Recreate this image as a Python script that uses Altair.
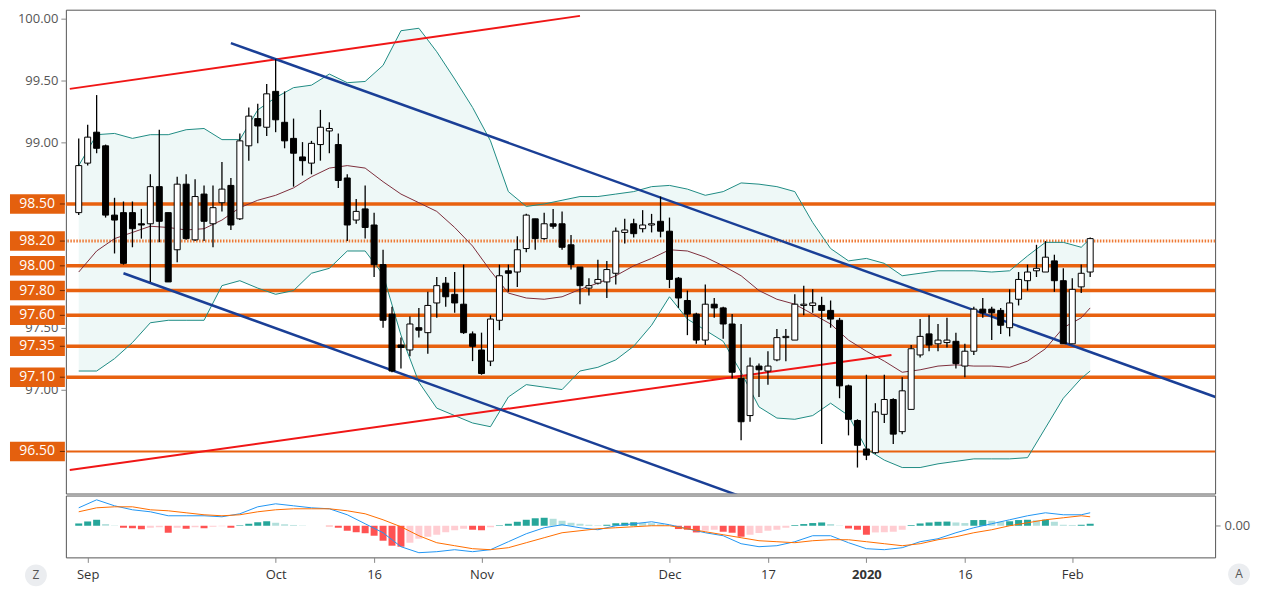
import altair as alt
import pandas as pd

# ---------------- data ----------------
bar_idx = list(range(114))
open_ = [98.43, 98.83, 99.08, 98.97, 98.41, 98.43, 98.43, 98.34, 98.34, 98.64,
         98.43, 98.13, 98.66, 98.21, 98.58, 98.34, 98.51, 98.65, 98.38, 98.97,
         99.19, 99.12, 99.41, 99.16, 99.03, 98.88, 98.83, 98.98, 99.09, 98.98,
         98.71, 98.37, 98.46, 98.33, 98.01, 97.61, 97.36, 97.32, 97.50, 97.46,
         97.70, 97.86, 97.77, 97.69, 97.45, 97.32, 97.23, 97.56, 97.96, 97.95,
         98.14, 98.38, 98.22, 98.34, 98.34, 98.17, 97.99, 97.82, 97.86, 97.87,
         97.94, 98.27, 98.34, 98.30, 98.33, 98.36, 98.28, 97.90, 97.72, 97.61,
         97.40, 97.69, 97.66, 97.53, 97.09, 96.79, 97.19, 97.15, 97.24, 97.42,
         97.40, 97.68, 97.68, 97.68, 97.64, 97.56, 97.03, 96.75, 96.52, 96.49,
         96.80, 96.92, 96.66, 96.84, 97.28, 97.45, 97.37, 97.38, 97.39, 97.19,
         97.31, 97.65, 97.65, 97.64, 97.50, 97.73, 97.88, 97.96, 97.95, 98.04,
         97.88, 97.37, 97.83, 97.95]
high = [99.03, 99.14, 99.38, 98.98, 98.55, 98.52, 98.52, 98.46, 98.74, 99.10,
        98.43, 98.72, 98.74, 98.70, 98.65, 98.65, 98.84, 98.71, 99.07, 99.28,
        99.31, 99.47, 99.67, 99.41, 99.19, 99.00, 99.01, 99.26, 99.16, 99.07,
        98.74, 98.54, 98.65, 98.43, 98.13, 97.67, 97.42, 97.59, 97.66, 97.79,
        97.91, 97.91, 97.95, 98.01, 97.47, 97.46, 97.60, 98.01, 98.01, 98.24,
        98.42, 98.38, 98.43, 98.46, 98.44, 98.25, 97.99, 97.90, 98.05, 98.04,
        98.31, 98.38, 98.38, 98.45, 98.42, 98.56, 98.39, 97.91, 97.80, 97.62,
        97.85, 97.74, 97.67, 97.61, 97.53, 97.26, 97.21, 97.31, 97.49, 97.49,
        97.77, 97.84, 97.81, 97.75, 97.72, 97.58, 97.04, 96.76, 97.12, 96.89,
        97.12, 96.93, 97.10, 97.36, 97.57, 97.60, 97.53, 97.58, 97.46, 97.37,
        97.67, 97.74, 97.67, 97.66, 97.81, 97.95, 98.01, 98.17, 98.20, 98.09,
        97.98, 97.90, 98.01, 98.23]
low = [98.41, 98.81, 98.91, 98.39, 98.10, 98.01, 98.15, 98.22, 97.87, 98.19,
       97.87, 98.03, 98.21, 98.20, 98.20, 98.15, 98.44, 98.29, 98.37, 98.85,
       98.99, 99.05, 99.08, 98.95, 98.64, 98.73, 98.74, 98.85, 98.91, 98.63,
       98.20, 98.34, 98.22, 97.91, 97.50, 97.14, 97.17, 97.27, 97.42, 97.29,
       97.58, 97.67, 97.62, 97.45, 97.23, 97.12, 97.19, 97.48, 97.79, 97.83,
       98.11, 98.13, 98.21, 98.30, 98.13, 97.97, 97.69, 97.76, 97.85, 97.74,
       97.85, 98.18, 98.23, 98.27, 98.27, 98.23, 97.82, 97.66, 97.44, 97.37,
       97.36, 97.58, 97.41, 97.09, 96.59, 96.74, 96.94, 97.04, 97.23, 97.23,
       97.40, 97.60, 97.62, 96.56, 97.50, 96.93, 96.63, 96.37, 96.43, 96.48,
       96.73, 96.56, 96.64, 96.84, 97.26, 97.31, 97.31, 97.34, 97.17, 97.10,
       97.28, 97.58, 97.40, 97.45, 97.43, 97.68, 97.80, 97.91, 97.95, 97.79,
       97.37, 97.37, 97.78, 97.91]
close = [98.81, 99.04, 98.95, 98.41, 98.37, 98.02, 98.30, 98.33, 98.64, 98.36,
         97.87, 98.66, 98.22, 98.56, 98.36, 98.47, 98.62, 98.33, 99.01, 99.21,
         99.13, 99.39, 99.18, 99.01, 98.91, 98.85, 98.99, 99.12, 99.11, 98.69,
         98.33, 98.44, 98.31, 98.01, 97.56, 97.15, 97.34, 97.53, 97.48, 97.68,
         97.84, 97.75, 97.70, 97.46, 97.35, 97.13, 97.57, 97.92, 97.94, 98.13,
         98.41, 98.22, 98.34, 98.32, 98.15, 98.01, 97.84, 97.84, 97.89, 97.97,
         98.28, 98.29, 98.26, 98.33, 98.34, 98.28, 97.89, 97.74, 97.61, 97.40,
         97.69, 97.66, 97.53, 97.14, 96.74, 97.19, 97.16, 97.19, 97.42, 97.43,
         97.69, 97.69, 97.70, 97.64, 97.57, 97.03, 96.76, 96.55, 96.47, 96.82,
         96.92, 96.64, 96.99, 97.33, 97.43, 97.36, 97.40, 97.40, 97.21, 97.31,
         97.65, 97.62, 97.62, 97.52, 97.70, 97.89, 97.95, 97.98, 98.07, 97.88,
         97.37, 97.81, 97.94, 98.22]

# Bollinger bands / MACD lines sampled every second bar
line_idx = list(range(0, 113, 2)) + [113]
bb_upper = [98.81, 99.06, 99.07, 99.03, 99.06, 99.06, 99.10, 99.11, 99.02, 99.02,
            99.26, 99.36, 99.44, 99.46, 99.55, 99.48, 99.49, 99.62, 99.90, 99.92,
            99.73, 99.51, 99.28, 99.01, 98.60, 98.48, 98.50, 98.53, 98.56, 98.56,
            98.58, 98.60, 98.64, 98.65, 98.62, 98.57, 98.60, 98.67, 98.66, 98.64,
            98.60, 98.35, 98.14, 98.04, 98.06, 98.02, 97.92, 97.94, 97.96, 97.96,
            97.96, 97.95, 97.96, 98.08, 98.19, 98.19, 98.15, 98.22]
bb_mid = [97.95, 98.12, 98.22, 98.27, 98.32, 98.31, 98.29, 98.30, 98.37, 98.47,
          98.53, 98.57, 98.63, 98.72, 98.79, 98.81, 98.79, 98.68, 98.58, 98.51,
          98.44, 98.31, 98.16, 97.96, 97.78, 97.74, 97.73, 97.75, 97.81, 97.86,
          97.92, 98.00, 98.06, 98.13, 98.12, 98.07, 98.00, 97.92, 97.80, 97.73,
          97.69, 97.61, 97.53, 97.40, 97.31, 97.23, 97.14, 97.16, 97.19, 97.20,
          97.19, 97.19, 97.18, 97.23, 97.33, 97.50, 97.58, 97.66]
bb_lower = [97.15, 97.15, 97.25, 97.38, 97.54, 97.56, 97.56, 97.56, 97.84, 97.88,
            97.82, 97.77, 97.80, 97.94, 97.98, 98.12, 98.12, 97.93, 97.44, 97.06,
            96.85, 96.79, 96.73, 96.70, 96.94, 97.04, 97.02, 97.00, 97.15, 97.18,
            97.24, 97.35, 97.52, 97.75, 97.57, 97.48, 97.39, 97.14, 96.86, 96.77,
            96.76, 96.79, 96.89, 96.79, 96.52, 96.43, 96.37, 96.37, 96.40, 96.42,
            96.44, 96.44, 96.44, 96.45, 96.69, 96.93, 97.09, 97.15]
macd = [0.18, 0.26, 0.20, 0.16, 0.14, 0.10, 0.10, 0.10, 0.09, 0.12,
        0.19, 0.22, 0.20, 0.18, 0.17, 0.11, 0.02, -0.07, -0.21, -0.27,
        -0.26, -0.24, -0.26, -0.24, -0.16, -0.08, -0.02, 0.01, -0.02, -0.04,
        0.00, 0.02, 0.04, 0.01, -0.03, -0.07, -0.10, -0.18, -0.21, -0.20,
        -0.16, -0.10, -0.10, -0.17, -0.23, -0.24, -0.22, -0.16, -0.13, -0.07,
        -0.02, 0.02, 0.06, 0.10, 0.13, 0.11, 0.11, 0.13]
signal = [0.14, 0.18, 0.19, 0.19, 0.16, 0.15, 0.13, 0.11, 0.10, 0.11,
          0.14, 0.16, 0.17, 0.17, 0.17, 0.15, 0.12, 0.06, -0.01, -0.10,
          -0.17, -0.20, -0.23, -0.24, -0.22, -0.17, -0.12, -0.07, -0.05, -0.03,
          -0.02, -0.01, 0.00, 0.00, -0.03, -0.06, -0.09, -0.12, -0.15, -0.16,
          -0.17, -0.15, -0.14, -0.14, -0.16, -0.18, -0.20, -0.18, -0.14, -0.11,
          -0.07, -0.04, 0.00, 0.03, 0.06, 0.08, 0.10, 0.09]
hist = [0.023, 0.043, 0.06, 0.017, 0.003, -0.02, -0.025, -0.035, -0.02, -0.015,
        -0.07, -0.02, -0.03, -0.015, -0.025, -0.01, -0.005, -0.02, 0.005, 0.02,
        0.035, 0.045, 0.03, 0.015, 0.008, 0.003, 0.0, 0.0, -0.005, -0.02,
        -0.05, -0.065, -0.075, -0.10, -0.15, -0.20, -0.21, -0.17, -0.13, -0.11,
        -0.09, -0.065, -0.045, -0.03, -0.04, -0.045, -0.015, 0.005, 0.02, 0.04,
        0.06, 0.075, 0.08, 0.07, 0.05, 0.03, 0.02, 0.01, 0.005, 0.01,
        0.025, 0.03, 0.035, 0.027, 0.025, 0.015, 0.005, -0.033, -0.04, -0.067,
        -0.05, -0.04, -0.06, -0.07, -0.11, -0.09, -0.073, -0.05, -0.04, -0.02,
        0.007, 0.017, 0.027, 0.033, 0.017, 0.003, -0.027, -0.04, -0.09, -0.067,
        -0.065, -0.06, -0.04, 0.007, 0.023, 0.033, 0.04, 0.042, 0.033, 0.027,
        0.057, 0.058, 0.05, 0.04, 0.045, 0.057, 0.06, 0.055, 0.06, 0.04,
        0.01, 0.008, 0.01, 0.02]

# horizontal support/resistance levels
levels_solid = [98.50, 98.00, 97.80, 97.60, 97.35, 97.10]
levels_dotted = [98.20]
levels_thin = [96.50]
levels_all = [98.50, 98.20, 98.00, 97.80, 97.60, 97.35, 97.10, 96.50]

# trend lines (bar index, price) end points
red_names = ["r1", "r1", "r2", "r2"]
red_i = [-1.0, 56.0, -1.0, 90.8]
red_p = [99.43, 100.02, 96.35, 97.28]
blue_names = ["b1", "b1", "b2", "b2"]
blue_i = [17.0, 127.0, 5.0, 75.0]
blue_p = [99.80, 96.94, 97.94, 96.11]

# price-scale labels not hidden behind the level boxes
price_ticks = [97.0, 97.5, 99.0, 99.5, 100.0]
time_tick_idx = [1, 22, 33, 45, 66, 77, 88, 99, 111]
time_tick_lbl = ["Sep", "Oct", "16", "Nov", "Dec", "17", "2020", "16", "Feb"]

# ---------------- frames ----------------
candles = pd.DataFrame({"i": bar_idx, "open": open_, "high": high, "low": low, "close": close})
bands = pd.DataFrame({"i": line_idx, "up": bb_upper, "mid": bb_mid, "lo": bb_lower,
                      "macd": macd, "sig": signal})
hcols = []
for k, h in enumerate(hist):
    prev = hist[k - 1] if k > 0 else 0.0
    if h >= 0:
        hcols.append("#26A69A" if h > prev else "#B2DFDB")
    else:
        hcols.append("#FFCDD2" if h > prev else "#FF5252")
histdf = pd.DataFrame({"i": bar_idx, "h": hist, "col": hcols})
reds = pd.DataFrame({"n": red_names, "i": red_i, "p": red_p})
blues = pd.DataFrame({"n": blue_names, "i": blue_i, "p": blue_p})

W = 1152
H_PRICE = 485
H_MACD = 62
FONT = "Open Sans"

xscale = alt.Scale(domain=[-0.88, 126.4], nice=False, zero=False)
pscale = alt.Scale(domain=[96.16, 100.07], nice=False, zero=False)
mscale = alt.Scale(domain=[-0.317, 0.303], nice=False, zero=False)

price_axis = alt.Axis(orient="left", values=price_ticks, format=".2f", labelFontSize=13,
                      labelColor="#555555", labelFont=FONT, tickColor="#888888", tickSize=5,
                      domain=False, grid=False, labelPadding=3, minExtent=57, maxExtent=57,
                      title=None)
X = alt.X("i:Q", scale=xscale, axis=None)


def Y(f):
    return alt.Y(f, scale=pscale, axis=price_axis)


fill = alt.Chart(bands).mark_area(color="#b2dfdb", opacity=0.22).encode(
    x=X, y=Y("up:Q"), y2="lo:Q")

lv_solid = alt.Chart(pd.DataFrame({"lv": levels_solid})).mark_rule(
    color="#E8610F", strokeWidth=3.5).encode(y=Y("lv:Q"))
lv_dot = alt.Chart(pd.DataFrame({"lv": levels_dotted})).mark_rule(
    color="#EE7A35", strokeWidth=3, strokeDash=[1.5, 1.5]).encode(y=Y("lv:Q"))
lv_thin = alt.Chart(pd.DataFrame({"lv": levels_thin})).mark_rule(
    color="#E8610F", strokeWidth=2).encode(y=Y("lv:Q"))

band_up = alt.Chart(bands).mark_line(color="#1f8c84", strokeWidth=1).encode(x=X, y=Y("up:Q"))
band_lo = alt.Chart(bands).mark_line(color="#1f8c84", strokeWidth=1).encode(x=X, y=Y("lo:Q"))
band_mid = alt.Chart(bands).mark_line(color="#7d2e3c", strokeWidth=1).encode(x=X, y=Y("mid:Q"))

red_lines = alt.Chart(reds).mark_line(color="#F01616", strokeWidth=2, clip=True).encode(
    x=X, y=Y("p:Q"), detail="n:N")
blue_lines = alt.Chart(blues).mark_line(color="#1a3f96", strokeWidth=2.5, clip=True).encode(
    x=X, y=Y("p:Q"), detail="n:N")

wicks = alt.Chart(candles).mark_rule(color="black", strokeWidth=1.3).encode(
    x=X, y=Y("low:Q"), y2="high:Q")
bodies = alt.Chart(candles).mark_bar(size=6, stroke="black", strokeWidth=1, orient="vertical").encode(
    x=X, y=Y("open:Q"), y2="close:Q",
    fill=alt.condition("datum.close >= datum.open", alt.value("white"), alt.value("black")))

lvdf = pd.DataFrame({"lv": levels_all})
boxes = alt.Chart(lvdf).transform_calculate(
    top="datum.lv + 0.079", bot="datum.lv - 0.079").mark_rect(color="#E4600E").encode(
    x=alt.value(-56), x2=alt.value(-1), y=Y("top:Q"), y2="bot:Q")
box_ticks = alt.Chart(lvdf).mark_rule(color="#6b2a05", strokeWidth=1).encode(
    x=alt.value(-6), x2=alt.value(-1), y=Y("lv:Q"))
box_text = alt.Chart(lvdf).mark_text(align="right", baseline="middle", color="white",
                                     fontSize=14, font=FONT).encode(
    x=alt.value(-11), y=Y("lv:Q"), text=alt.Text("lv:Q", format=".2f"))

price = alt.layer(fill, lv_solid, lv_dot, lv_thin, band_up, band_lo, band_mid,
                  red_lines, blue_lines, wicks, bodies, boxes, box_ticks, box_text
                  ).properties(width=W, height=H_PRICE)

# ---------------- MACD pane ----------------
label_expr = " : ".join(
    f"datum.value == {v} ? '{t}'" for v, t in zip(time_tick_idx, time_tick_lbl)) + " : ''"
time_axis = alt.Axis(orient="bottom", values=time_tick_idx, labelExpr=label_expr,
                     labelFontSize=13, labelColor="#333333", labelFont=FONT,
                     labelFontWeight={"condition": {"test": "datum.value == 88", "value": "bold"},
                                      "value": "normal"},
                     tickColor="#888888", tickSize=5, domain=False, grid=False,
                     labelPadding=6, labelFlush=False, labelOverlap=False, title=None)
macd_axis = alt.Axis(orient="right", values=[0], format=".2f", labelFontSize=13,
                     labelColor="#555555", labelFont=FONT, tickColor="#888888", tickSize=5,
                     domain=False, grid=False, labelPadding=4, minExtent=45, maxExtent=45,
                     title=None)
XM = alt.X("i:Q", scale=xscale, axis=time_axis)


def YM(f):
    return alt.Y(f, scale=mscale, axis=macd_axis)


hbars = alt.Chart(histdf).transform_calculate(z="0").mark_bar(size=7, orient="vertical").encode(
    x=XM, y=YM("h:Q"), y2="z:Q", fill=alt.Color("col:N", scale=None))
mline = alt.Chart(bands).mark_line(color="#2196F3", strokeWidth=1).encode(x=XM, y=YM("macd:Q"))
sline = alt.Chart(bands).mark_line(color="#FF6D00", strokeWidth=1).encode(x=XM, y=YM("sig:Q"))

btn = pd.DataFrame({"t": ["Z"]})
btn_r = pd.DataFrame({"t": ["A"]})
zc = alt.Chart(btn).mark_circle(size=480, color="#ebedf0", opacity=1).encode(
    x=alt.value(-30), y=alt.value(H_MACD + 18))
zt = alt.Chart(btn).mark_text(fontSize=12, color="#555555", font=FONT).encode(
    x=alt.value(-30), y=alt.value(H_MACD + 18), text="t:N")
ac = alt.Chart(btn_r).mark_circle(size=480, color="#ebedf0", opacity=1).encode(
    x=alt.value(W + 24), y=alt.value(H_MACD + 17))
at = alt.Chart(btn_r).mark_text(fontSize=12, color="#555555", font=FONT).encode(
    x=alt.value(W + 24), y=alt.value(H_MACD + 17), text="t:N")

macd_pane = alt.layer(hbars, mline, sline, zc, zt, ac, at).properties(width=W, height=H_MACD)

chart = alt.vconcat(price, macd_pane, spacing=0).properties(
    padding={"left": 0, "top": 0, "right": 0, "bottom": 0}, background="white"
).configure_view(stroke="#555555", strokeWidth=1)

chart.save("out.html", embed_options={"renderer": "svg", "actions": False})
